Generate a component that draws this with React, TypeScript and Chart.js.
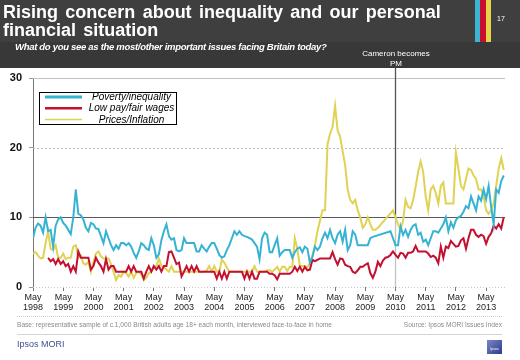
import React, { useEffect, useRef } from "react";
import { Chart, registerables } from "chart.js";

Chart.register(...registerables);

const FONT = "Arial, 'Liberation Sans', Helvetica, sans-serif";

// month index 0 = May 1998, one entry per month
const tickMonth = "May";
const tickYears = ["1998", "1999", "2000", "2001", "2002", "2003", "2004", "2005", "2006", "2007", "2008", "2009", "2010", "2011", "2012", "2013"];
const cameronMonth = 144; // May 2010
const yTicks = [0, 10, 20, 30];

const seriesNames = ["Poverty/inequality", "Low pay/fair wages", "Prices/Inflation"];
const seriesColors = ["#36b3d3", "#c3102f", "#e0d253"];

const poverty: (number | null)[] = [
  7, 8.5, 9.1, 8.8, 7.8, 10, 8, 8.2, 5.8, 8.8, 9.7, 10,
  9.2, 8.8, 8.2, 7.6, 10, 14, 10.5, 10.3, 9.7, 8.5, 8, 9.2,
  9, 8.4, 8.3, 7.3, 6.3, 8, 7, 6, 5.3, 6, 5.5, 6.3,
  6.3, 6, 6.3, 5.8, 4.9, 4.2, 5.1, 6.3, 6, 5.5, 5.3, 7,
  6, 4.2, 4.7, 6.7, 8, 9, 7.3, 6.8, 7, 5.3, 5.1, 5.3,
  7, 6.3, 6.3, 6.3, 6.3, 5.1, 5.1, 6, 5.5, 5.1, 5.8, 6.3,
  6.3, 5.5, 4.6, 4.2, 4.4, 5.3, 6, 7, 8, 7.5, 8, 7.5,
  7.3, 7.2, 7, 6.8, 6.3, 5.8, 4, 7, 7.8, 7.5, 5, 5,
  6, 7, 4.5, 5, 5.3, 5.3, 5.3, 4.2, 5, 5.5, 5.7, 5,
  5.8, 5.5, 3.5, 4.3, 5.8, 5.3, 5.8, 7, 7.8, 7, 8.2, 7,
  6.3, 7.5, 8, 6.5, 8.2, 5.3, 6, 8, 7.5, 6, 6, 6,
  6, 6, 7, 7.2, null, null, null, null, null, null, 8, 7,
  6, 6, 8.7, 7.5, 8.2, 7.2, 8.2, 8.8, 9, 7.5, 7.8, 6.5,
  6.8, 6, 7, 8, 8, 7.8, 8.4, 9, 10, 8, 9.3, 8.5,
  9.6, 10, 10.2, 10.8, 11.6, 11.3, 13, 12, 11, 13, 12.4, 14,
  12.6, 14.5, 11.5, 9, 14, 13.5, 15.2, 16,
];

const lowPay: (number | null)[] = [
  null, null, null, null, null, null, 4.2, 3.7, 4, 3.3, 4, 3.3,
  3.7, 3, 3.3, 2.2, 3, 2.2, 5.1, 4.2, 4.2, 4.2, 4.2, 2.5,
  3, 4.2, 3.5, 3, 2.2, 4, 2.5, 3, 3, 2.2, 2.2, 2.2,
  2.2, 2.2, 3, 2.2, 3, 2.2, 2.2, 2.2, 1.2, 2.2, 3, 2.2,
  3, 2.5, 3, 2.2, 3, 3, 5, 5.1, 4.2, 3.3, 3.5, 1.5,
  2.2, 3, 2.2, 3, 2.2, 3, 2.2, 2.2, 2.2, 2.2, 2.2, 2.2,
  2.2, 1.2, 2.2, 1.2, 2.2, 1.2, 2.2, 2.2, 2.2, 2.2, 2.2, 2.2,
  1.2, 2.2, 1.2, 2.2, 1.2, 1.2, 2.2, 2.2, 2.2, 2.2, 1.9, 1.9,
  1.7, 1.1, 1.9, 1.9, 1.9, 1.9, 1.9, 2.2, 2.9, 2.3, 2.9, 2.2,
  2.9, 2.4, 2.5, 3.9, 3.7, 3.9, 4.1, 4.1, 4.1, 4.1, 4.1, 5,
  4, 3.2, 4.1, 4, 3.2, 3, 2.9, 2.2, 2, 2.4, 2.9, 2.9,
  3.2, 3.4, 2, 1.3, 2.2, 3.6, 3, 3.8, 4.2, 4.3, 4.6, 5.1,
  4.6, 4.2, 4.9, 4.8, 4.2, 4.9, 4.9, 5.1, 5.9, 5.1, 5.1, 5.1,
  5.1, 4.8, 4.3, 4.5, 4.2, 3.4, 5.8, 4.2, 5.8, 5.6, 6.6, 6.2,
  5.8, 5.9, 6.7, 7, 5.5, 7, 8.2, 8.2, 7.5, 7.2, 7.5, 7.3,
  6.2, 7.2, 7.7, 8.8, 8.4, 9, 8.4, 10,
];

const prices: (number | null)[] = [
  4.8, 5, 4.5, 4.1, 4.2, 6.3, 8, 5.5, 5.3, 6, 4.2, 4.2,
  4.8, 4, 4.2, 4.2, 5.8, 6, 4.2, 4.5, 3.4, 3.2, 3.6, 2.2,
  3.6, 4.8, 5.1, 4.4, 4.1, 4.1, 4.1, 3.3, 2.2, 1, 1.7, 1.5,
  2.2, 2, 1.5, 2.2, 1.3, 2, 2.2, 1.8, 1, 1.3, 2, 2.2,
  2.8, 3, 4.1, 3, 2.8, 2.5, 2.2, 3, 2.2, 2.2, 2.2, 2.2,
  2.2, 2.2, 2.2, 2.2, 2.2, 2.2, 2.2, 2.2, 2.2, 2.4, 3, 2.2,
  3, 2.2, 2.2, 3.9, 3.5, 2.8, 2.2, 2.2, 2.2, 2.2, 2.2, 2.2,
  2.2, 2.2, 2.2, 2.2, 3, 2.2, 2.2, 2.2, 2.2, 2.4, 2.4, 2.2,
  2.5, 2.9, 2.2, 2.9, 2.9, 2.3, 2.9, 2.9, 7, 5.5, 3, 3,
  3, 2.8, 3.5, 4.5, 6, 8, 9.5, 11, 11, 20.5, 22, 23,
  26, 22.5, 21.6, 19.5, 17.5, 14, 12.5, 12, 12.5, 11, 10, 8.5,
  9, 10, 9, 8.2, 8.2, 8.5, null, null, null, null, null, 11,
  10, 9, 8.2, 9.5, 12.5, 11.5, 11.3, 12.5, 14.4, 16.5, 18, 16.5,
  13, 11, 14, 14.5, 13.5, 12, 14.5, 15, 12, 12, 12, 12,
  19.3, 17, 14.5, 14, 15.5, 17, 16.8, 16, 15.5, 14, 14, 13,
  11, 10.5, 11, 12, 14.5, 17, 18.5, 16.8,
];

const seriesValues = [poverty, lowPay, prices];

const gridPlugin = {
  id: "customGrid",
  beforeDatasetsDraw(chart: any) {
    const { ctx, chartArea } = chart;
    const ys = chart.scales.y;
    const xs = chart.scales.x;
    const styles: Record<number, { c: string; d: number[]; w: number }> = {
      0: { c: "#c8c8c8", d: [1, 2], w: 1 },
      10: { c: "#5a5a5a", d: [], w: 1.2 },
      20: { c: "#b8b8b8", d: [2, 2], w: 1 },
      30: { c: "#c9bccb", d: [], w: 1 },
    };
    ctx.save();
    yTicks.forEach((v) => {
      const s = styles[v];
      const y = Math.round(ys.getPixelForValue(v)) + 0.5;
      ctx.beginPath();
      ctx.strokeStyle = s.c;
      ctx.lineWidth = s.w;
      ctx.setLineDash(s.d);
      ctx.moveTo(chartArea.left, y);
      ctx.lineTo(chartArea.right, y);
      ctx.stroke();
    });
    ctx.setLineDash([]);
    const cx = Math.round(xs.getPixelForValue(cameronMonth)) + 0.5;
    const y10 = ys.getPixelForValue(10);
    ctx.beginPath();
    ctx.strokeStyle = "#555";
    ctx.lineWidth = 1.3;
    ctx.moveTo(cx, chartArea.top - 10);
    ctx.lineTo(cx, y10);
    ctx.stroke();
    ctx.beginPath();
    ctx.strokeStyle = "#c4c4c4";
    ctx.lineWidth = 1.3;
    ctx.moveTo(cx, y10);
    ctx.lineTo(cx, chartArea.bottom);
    ctx.stroke();
    ctx.restore();
  },
};

const legendPlugin = {
  id: "boxLegend",
  afterDatasetsDraw(chart: any) {
    const { ctx, chartArea } = chart;
    const bx = chartArea.left + 6;
    const by = chartArea.top + 14;
    const bw = 137;
    const bh = 32;
    ctx.save();
    ctx.fillStyle = "#fff";
    ctx.fillRect(bx, by, bw, bh);
    ctx.strokeStyle = "#000";
    ctx.lineWidth = 1;
    ctx.strokeRect(bx + 0.5, by + 0.5, bw, bh);
    const widths = [3, 2.5, 1.5];
    chart.data.datasets.forEach((ds: any, i: number) => {
      const y = by + 5 + i * 11.2;
      ctx.beginPath();
      ctx.strokeStyle = ds.borderColor;
      ctx.lineWidth = widths[i];
      ctx.moveTo(bx + 6, y);
      ctx.lineTo(bx + 43, y);
      ctx.stroke();
      ctx.fillStyle = "#000";
      ctx.font = `italic 10px ${FONT}`;
      ctx.textAlign = "center";
      ctx.textBaseline = "middle";
      ctx.fillText(ds.label, bx + 92.5, y + 0.5);
    });
    ctx.restore();
  },
};

export default function App() {
  const ref = useRef<HTMLCanvasElement>(null);

  useEffect(() => {
    const canvas = ref.current;
    if (!canvas) return;
    const chart = new Chart(canvas, {
      type: "line",
      data: {
        datasets: seriesNames.map((name, i) => ({
          label: name,
          data: seriesValues[i].map((v, m) => ({ x: m, y: v })),
          borderColor: seriesColors[i],
          backgroundColor: seriesColors[i],
          borderWidth: 2,
          pointRadius: 0,
          tension: 0,
          spanGaps: true,
        })),
      },
      options: {
        responsive: false,
        animation: false,
        layout: { padding: { top: 78, right: 15, left: 0, bottom: 0 } },
        plugins: { legend: { display: false }, tooltip: { enabled: false } },
        scales: {
          x: {
            type: "linear",
            min: 0,
            max: 187.5,
            afterFit: (s: any) => {
              s.height = 73;
            },
            afterBuildTicks: (s: any) => {
              s.ticks = tickYears.map((_, i) => ({ value: i * 12 }));
            },
            grid: { drawOnChartArea: false, drawTicks: true, tickLength: 4, tickColor: "#777" },
            border: { display: false },
            ticks: {
              autoSkip: false,
              maxRotation: 0,
              padding: 2,
              color: "#222",
              font: { family: FONT, size: 9, weight: "normal", lineHeight: 1.08 },
              callback: (_v: any, i: number) => [tickMonth, tickYears[i]],
            },
          },
          y: {
            min: 0,
            max: 30,
            afterFit: (s: any) => {
              s.width = 33;
            },
            afterBuildTicks: (s: any) => {
              s.ticks = yTicks.map((v) => ({ value: v }));
            },
            grid: { drawOnChartArea: false, drawTicks: true, tickLength: 4, tickColor: "#999" },
            border: { display: true, color: "#777", width: 1 },
            ticks: {
              padding: 7,
              color: "#111",
              font: { family: FONT, size: 11, weight: "bold" },
            },
          },
        },
      },
      plugins: [gridPlugin, legendPlugin],
    } as any);
    return () => chart.destroy();
  }, []);

  const abs = (o: React.CSSProperties): React.CSSProperties => ({ position: "absolute", ...o });

  return (
    <div style={abs({ left: 0, top: 0, width: 520, height: 360, background: "#fff", overflow: "hidden", fontFamily: FONT })}>
      <div style={abs({ left: 0, top: 0, width: 520, height: 42, background: "#3f3f3f" })} />
      <div style={abs({ left: 0, top: 42, width: 520, height: 26, background: "#383838" })} />
      <div style={abs({ left: 475, top: 0, width: 5, height: 42, background: "#3ab5d5" })} />
      <div style={abs({ left: 480, top: 0, width: 6, height: 42, background: "#c8102e" })} />
      <div style={abs({ left: 486, top: 0, width: 5, height: 42, background: "#e6d54a" })} />
      <canvas ref={ref} width={520} height={360} style={abs({ left: 0, top: 0, width: 520, height: 360 })} />
      <div style={abs({ left: 3, top: 3, width: 470, color: "#fff", fontWeight: "bold", fontSize: 18, lineHeight: "18px", wordSpacing: 2.3, whiteSpace: "nowrap" })}>
        Rising concern about inequality and our personal
        <br />
        financial situation
      </div>
      <div style={abs({ left: 497, top: 15, color: "#fff", fontSize: 7, lineHeight: "7px" })}>17</div>
      <div style={abs({ left: 15, top: 42, color: "#fff", fontWeight: "bold", fontStyle: "italic", fontSize: 9.5, lineHeight: "9.5px", letterSpacing: -0.3, whiteSpace: "nowrap" })}>
        What do you see as the most/other important issues facing Britain today?
      </div>
      <div style={abs({ left: 346, top: 48.5, width: 100, textAlign: "center", color: "#fff", fontSize: 8, lineHeight: "10.5px" })}>
        Cameron becomes
        <br />
        PM
      </div>
      <div style={abs({ left: 17, top: 316, width: 485, height: 0, borderTop: "1px dotted #e2c6d6" })} />
      <div style={abs({ left: 17, top: 322, color: "#8a8a8a", fontSize: 6.6, lineHeight: "6.6px", whiteSpace: "nowrap" })}>
        Base: representative sample of c.1,000 British adults age 18+ each month, interviewed face-to-face in home
      </div>
      <div style={abs({ left: 300, top: 322, width: 202, textAlign: "right", color: "#8a8a8a", fontSize: 6.6, lineHeight: "6.6px", whiteSpace: "nowrap" })}>
        Source: Ipsos MORI Issues Index
      </div>
      <div style={abs({ left: 17, top: 334, width: 485, height: 0, borderTop: "1px solid #d4d4d4" })} />
      <div style={abs({ left: 17, top: 339.5, color: "#3d4f91", fontSize: 9, lineHeight: "9px", whiteSpace: "nowrap" })}>
        Ipsos MORI
      </div>
      <div style={abs({ left: 487, top: 340, width: 15, height: 14, background: "linear-gradient(135deg, #7a86c8, #2c3c8c)", color: "#fff", fontSize: 3.5, lineHeight: "3.5px", textAlign: "center", paddingTop: 8, boxSizing: "border-box" })}>
        Ipsos
      </div>
    </div>
  );
}
